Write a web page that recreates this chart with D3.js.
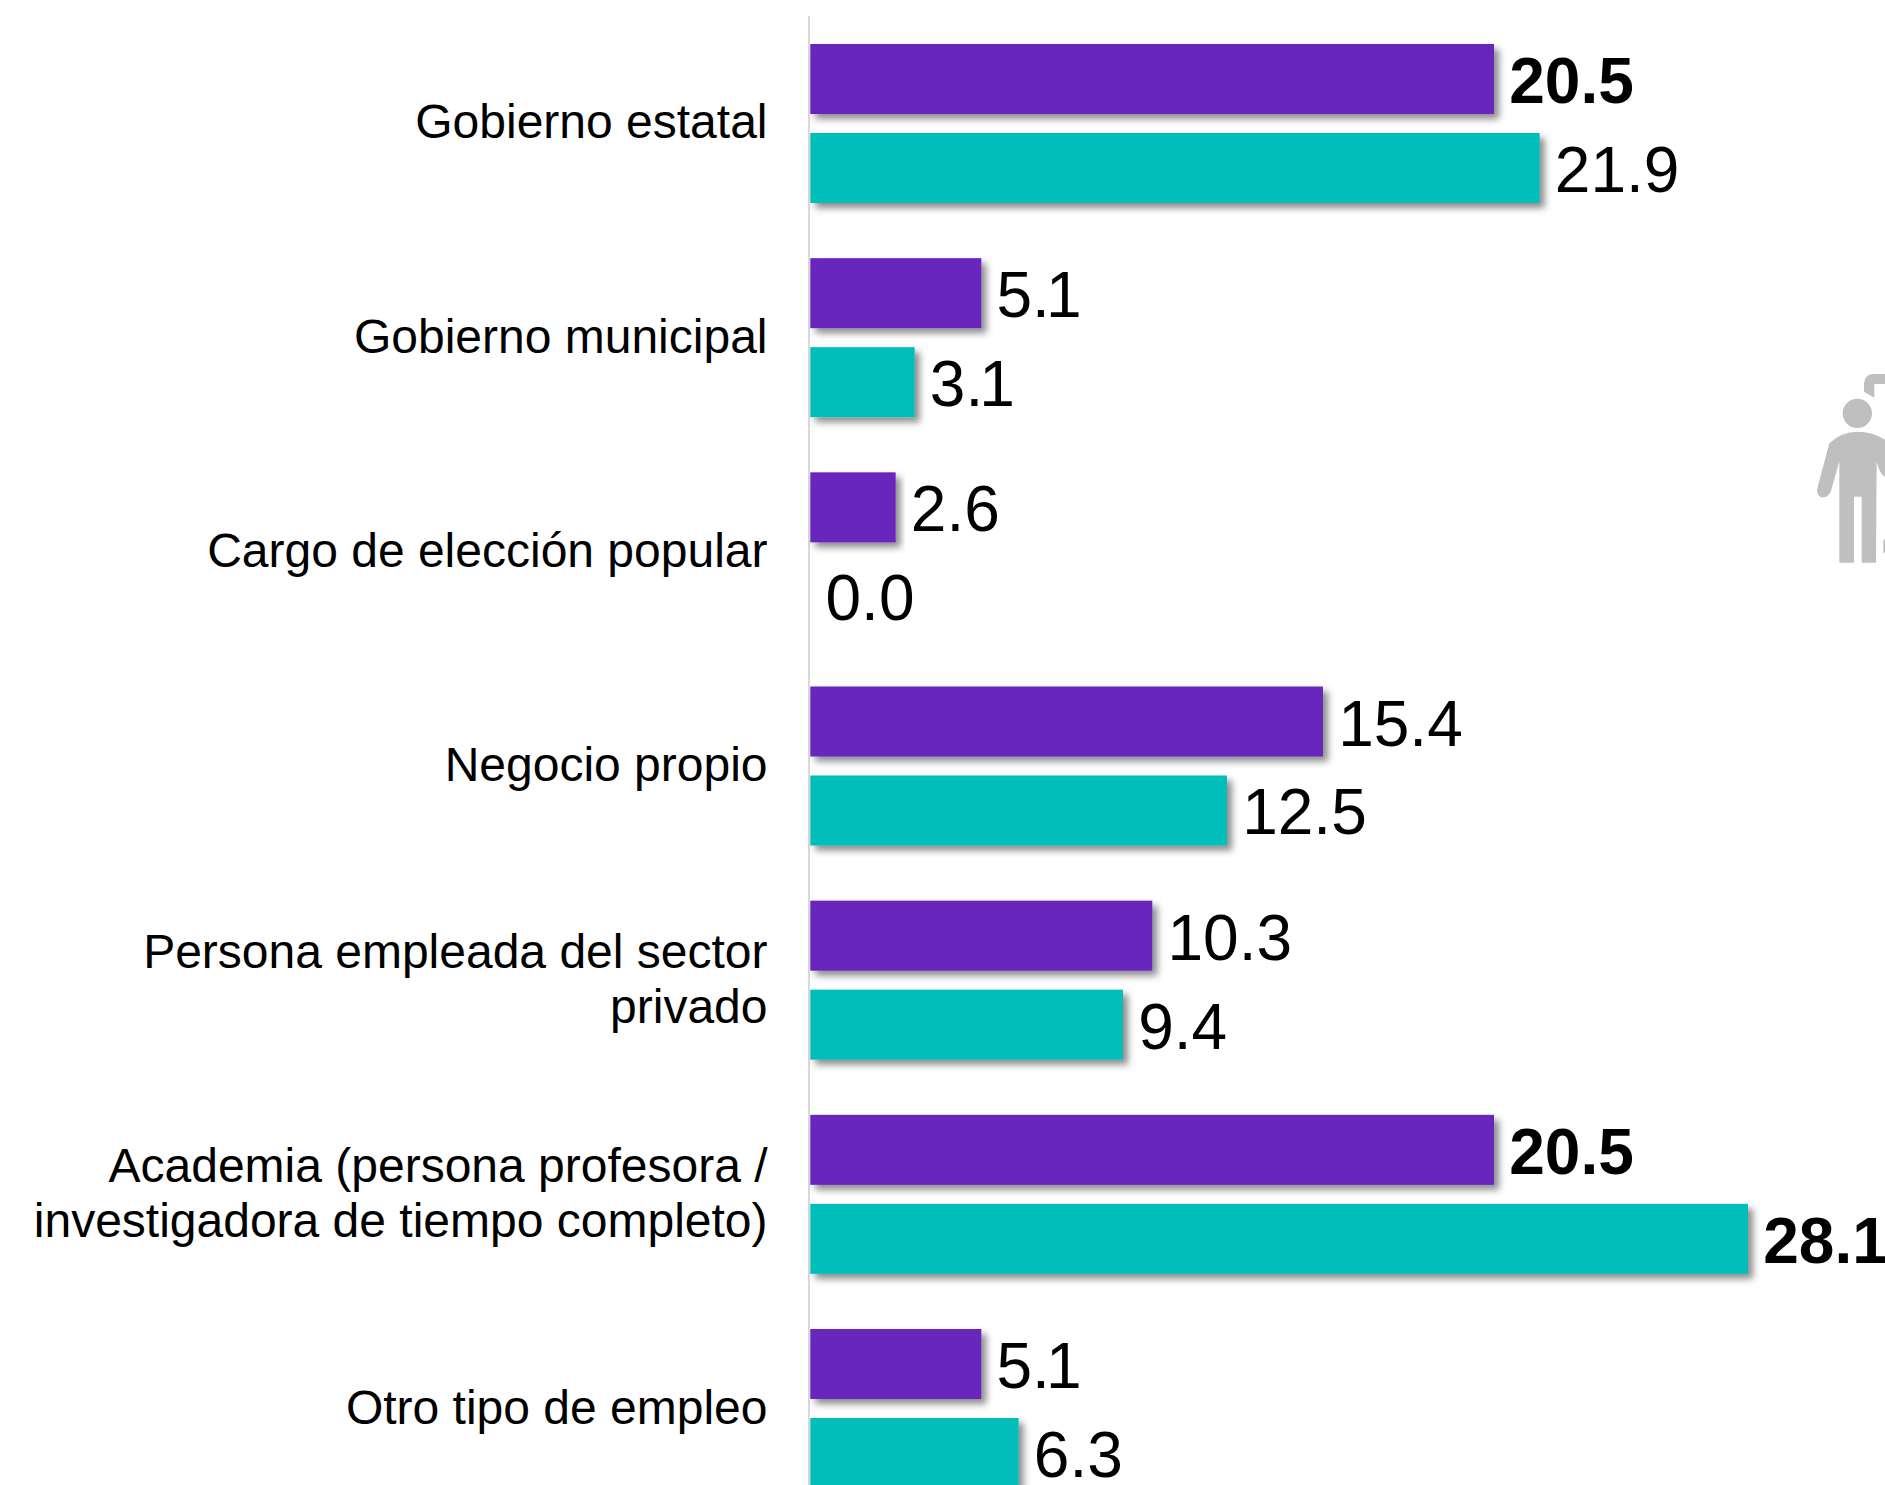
<!DOCTYPE html>
<html>
<head>
<meta charset="utf-8">
<script src="https://cdn.jsdelivr.net/npm/d3@7"></script>
<style>
body { margin: 0; background: #fff; }
text { font-family: "Liberation Sans", Arial, sans-serif; fill: #000; }
</style>
</head>
<body>
<script>
// data (bar lengths give a bit more than the one decimal on the labels)
var categories = [
    ["Gobierno estatal"],
    ["Gobierno municipal"],
    ["Cargo de elección popular"],
    ["Negocio propio"],
    ["Persona empleada del sector", "privado"],
    ["Academia (persona profesora /", "investigadora de tiempo completo)"],
    ["Otro tipo de empleo"]
];
var serieA = [20.51, 5.13, 2.56, 15.38, 10.26, 20.51, 5.13];
var serieB = [21.88, 3.13, 0.0, 12.5, 9.38, 28.13, 6.25];
var boldA = [0, 5]; // indexes with bold labels
var boldB = [5];
var colorA = "#6726bd", colorB = "#06bfba";

var w = 1885, h = 1485;

var svg = d3.select("body").append("svg")
    .attr("width", w)
    .attr("height", h)
    .style("display", "block");

// soft shadow under the bars
var filter = svg.append("defs").append("filter")
    .attr("id", "barShadow")
    .attr("x", "-5%").attr("y", "-20%")
    .attr("width", "115%").attr("height", "150%");
filter.append("feDropShadow")
    .attr("dx", 5).attr("dy", 5)
    .attr("stdDeviation", 3.5)
    .attr("flood-color", "#000")
    .attr("flood-opacity", 0.45);

var x = d3.scaleLinear()
    .domain([0, 28.13])
    .range([810.3, 1748]);

var y = d3.scaleBand()
    .domain(d3.range(categories.length))
    .range([44, 1488])
    .paddingInner(0.2576)
    .paddingOuter(0);

var yInner = d3.scaleBand()
    .domain([0, 1])
    .range([0, y.bandwidth()])
    .paddingInner(0.2135);

// category axis, tick text is replaced to get the two line labels
var yAxis = d3.axisLeft(y).tickSize(0).tickPadding(0).tickFormat("");
var axis = svg.append("g")
    .attr("class", "axis")
    .attr("transform", "translate(809,0)")
    .call(yAxis);
axis.select(".domain")
    .attr("d", "M0,16V1485")
    .attr("stroke", "#d9d9d9")
    .attr("stroke-width", 2);

axis.selectAll(".tick text")
    .attr("x", -41.5)
    .attr("dy", null)
    .attr("text-anchor", "end")
    .style("font-size", "48px")
    .each(function(d){
        var lines = categories[d];
        var t = d3.select(this);
        lines.forEach(function(line, i){
            t.append("tspan")
                .attr("x", -41.5)
                .attr("y", 15 + (i - (lines.length - 1) / 2) * 55)
                .text(line);
        });
    });

var series = [
    { name: "a", values: serieA, color: colorA, bold: boldA },
    { name: "b", values: serieB, color: colorB, bold: boldB }
];

series.forEach(function(s, si){
    var rows = s.values.map(function(v, i){ return { i: i, v: v }; });
    var g = svg.append("g").attr("class", "serie-" + s.name);

    g.selectAll("rect")
        .data(rows.filter(function(d){ return d.v > 0; }))
        .enter()
        .append("rect")
        .attr("x", x(0))
        .attr("y", function(d){ return y(d.i) + yInner(si); })
        .attr("width", function(d){ return x(d.v) - x(0); })
        .attr("height", yInner.bandwidth())
        .style("fill", s.color)
        .style("filter", "url(#barShadow)");

    g.selectAll("text")
        .data(rows)
        .enter()
        .append("text")
        .attr("x", function(d){ return x(d.v) + 15.2; })
        .attr("y", function(d){ return y(d.i) + yInner(si) + yInner.bandwidth() / 2 + 24; })
        // the reference kerns ".1" tighter than this font does
        .attr("dx", function(d){
            var label = d.v.toFixed(1);
            return label.slice(-2) === ".1" ? "0 0 0".slice(0, (label.length - 1) * 2) + "-4" : null;
        })
        .style("font-size", "64px")
        .style("font-weight", function(d){
            return s.bold.indexOf(d.i) >= 0 ? "bold" : "normal";
        })
        .text(function(d){ return d.v.toFixed(1); });
});

// grey person icon, cut by the right edge
var icon = svg.append("g")
    .attr("transform", "translate(1780,350) scale(0.3333)")
    .style("fill", "#bfbfbf");
icon.append("circle").attr("cx", 232).attr("cy", 190).attr("r", 44);
icon.append("path")
    .attr("d", "M148,280 Q185,245 232,245 Q280,245 316,270 L316,380 Q300,375 290,335 L288,638 L245,638 L245,440 L222,440 L222,638 L178,638 L178,335 L152,425 Q140,448 120,440 Q108,430 112,415 Z");
icon.append("path")
    .attr("d", "M252,125 L252,100 Q254,74 278,72 L316,72 L316,102 L283,102 L283,143 Z");
icon.append("path")
    .attr("d", "M310,608 L310,572 L316,565 L316,608 Z");
</script>
</body>
</html>
